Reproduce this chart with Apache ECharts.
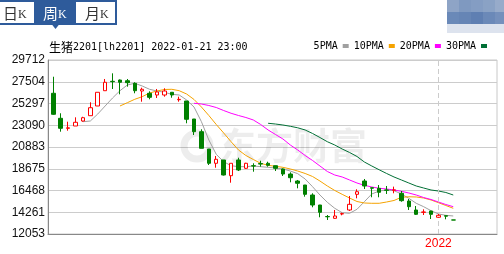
<!DOCTYPE html>
<html>
<head>
<meta charset="utf-8">
<script src="https://cdn.jsdelivr.net/npm/echarts@6/dist/echarts.min.js"></script>
<style>html,body{margin:0;padding:0;background:#fff;}#c{width:504px;height:254px;}</style>
</head>
<body>
<div id="c"></div>
<script>
// ---- data ----
var dates = ['2021-01-08','2021-01-15','2021-01-22','2021-01-29','2021-02-05','2021-02-10','2021-02-19','2021-02-26','2021-03-05','2021-03-12',
 '2021-03-19','2021-03-26','2021-04-02','2021-04-09','2021-04-16','2021-04-23','2021-04-30','2021-05-07','2021-05-14','2021-05-21',
 '2021-05-28','2021-06-04','2021-06-11','2021-06-18','2021-06-25','2021-07-02','2021-07-09','2021-07-16','2021-07-23','2021-07-30',
 '2021-08-06','2021-08-13','2021-08-20','2021-08-27','2021-09-03','2021-09-10','2021-09-17','2021-09-24','2021-09-30','2021-10-08',
 '2021-10-15','2021-10-22','2021-10-29','2021-11-05','2021-11-12','2021-11-19','2021-11-26','2021-12-03','2021-12-10','2021-12-17',
 '2021-12-24','2021-12-31','2022-01-07','2022-01-14','2022-01-21'];
var emptySlots = ['+1','+2','+3','+4','+5'];
var opens  = [26335,23795,22780,23015,23520,24060,25045,26595,27550,27680,27610,27345,26565,26335,26160,26160,26435,25680,25550,23725,
 22435,20680,19230,19565,17970,19565,18720,18980,19200,19230,18985,18650,18140,17430,17025,16010,14995,13830,13645,14085,
 14490,16080,17430,16750,16690,16520,16490,16185,15400,14490,14250,14385,13750,13910,13480];
var closes = [24200,22780,22830,23390,23855,24870,26435,27450,27510,27450,27410,26595,26740,25925,26465,26565,26160,25720,23695,22435,
 20750,19230,19635,18040,19230,18550,19230,18950,19150,19025,18720,18140,17765,17200,16080,14995,14255,13800,13880,14120,
 15065,16345,16925,16700,16285,16490,16530,15435,14825,14050,14290,14050,13950,13860,13470];
var lows   = [24150,22435,22535,23015,23450,24060,25045,26595,26770,26230,27005,26335,25480,25725,25855,25990,25885,25480,23290,22100,
 20750,19055,18780,17990,17260,18445,18650,18375,18885,18885,18445,17940,17300,16690,15840,14765,13750,13475,13600,13950,
 14385,15675,16620,15780,15780,16115,16185,15330,14490,13980,13980,13575,13700,13545,13470];
var highs  = [28015,24305,23450,23895,23950,25420,26435,27785,28360,27730,27785,27450,26900,26535,26770,26840,26435,25990,25550,23725,
 22680,20680,19970,19565,19230,19795,19280,19230,19490,19390,19000,18700,18315,17535,17025,16185,15000,13980,14490,14215,
 15910,16590,17635,16760,17025,16925,16860,16415,15605,14895,14560,14400,14085,13920,13480];
var ma5  = [null,null,null,null,23450,23520,24230,25045,25855,26595,27175,27350,27075,26740,26565,26435,26230,26160,25655,24940,
 23450,21595,20140,19390,18985,18885,18885,18955,18885,18820,18750,18650,18445,18175,17635,16855,16010,15270,14660,14215,
 14155,14560,15330,16115,16415,16520,16450,16115,15675,15170,14825,14420,14085,13950,13880];
var ma10 = [null,null,null,null,null,null,null,null,null,25045,25380,25725,25990,26365,26565,26720,26740,26595,26260,25705,
 24940,24080,23165,22305,21420,20580,20020,19615,19230,19025,18925,18820,18650,18445,18195,17890,17430,16925,16470,16080,
 15705,15350,15200,15170,15170,15300,15455,15780,15830,15810,15705,15505,15230,14945,14660];
var ma20 = [null,null,null,null,null,null,null,null,null,null,null,null,null,null,null,null,null,null,null,25320,
 25245,25095,24890,24585,24305,24080,23875,23625,23165,22610,22150,21695,21085,20580,20020,19515,18955,18395,18040,17840,
 17535,17230,16995,16825,16690,16620,16520,16385,16215,16010,15755,15555,15300,15045,14825];
var ma30 = [null,null,null,null,null,null,null,null,null,null,null,null,null,null,null,null,null,null,null,null,
 null,null,null,null,null,null,null,null,null,23290,23215,23115,22985,22830,22610,22255,21845,21420,21085,20680,
 20325,19920,19360,18955,18570,18195,17840,17535,17230,16925,16720,16520,16415,16265,16010];
var yTicks = [12053,14261,16468,18675,20883,23090,25297,27504,29712];
var yMin = 12053, yMax = 29712;
var yearTickDates = ['2022-01-07'];
var yearTickLabels = ['2022'];
var maNames = ['5PMA','10PMA','20PMA','30PMA'];
var maColors = ['#a0a0a0','#f5a300','#ff00ff','#006f35'];
var titleCJK = '生猪';
var titleRest = '2201[lh2201] 2022-01-21 23:00';
var tabs = ['日','周','月'];

// ---- build ----
var cats = dates.concat(emptySlots);
var kData = opens.map(function(o,i){ return [o, closes[i], lows[i], highs[i]]; });
var maData = [ma5, ma10, ma20, ma30];

var blue = '#2e5b9b';
var graphics = [
  // tabs
  {type:'rect', shape:{x:-8,y:1,width:124,height:23}, style:{fill:'#fff', stroke:blue, lineWidth:2}, z:10},
  {type:'rect', shape:{x:34,y:0,width:42,height:25}, style:{fill:blue}, z:11},
  {type:'polygon', shape:{points:[[51.5,24],[59.5,24],[55.5,29]]}, style:{fill:blue}, z:11},
  // mosaic top right
  {type:'rect', shape:{x:447,y:0,width:12,height:12}, style:{fill:'#8ea4c6'}, z:10},
  {type:'rect', shape:{x:459,y:0,width:12,height:12}, style:{fill:'#7f99c0'}, z:10},
  {type:'rect', shape:{x:471,y:0,width:12,height:12}, style:{fill:'#849dc3'}, z:10},
  {type:'rect', shape:{x:483,y:0,width:12,height:12}, style:{fill:'#8aa2c5'}, z:10},
  {type:'rect', shape:{x:495,y:0,width:9,height:12}, style:{fill:'#97abca'}, z:10},
  {type:'rect', shape:{x:447,y:12,width:12,height:12}, style:{fill:'#6a89b8'}, z:10},
  {type:'rect', shape:{x:459,y:12,width:12,height:12}, style:{fill:'#6685b5'}, z:10},
  {type:'rect', shape:{x:471,y:12,width:12,height:12}, style:{fill:'#5f7fb2'}, z:10},
  {type:'rect', shape:{x:483,y:12,width:12,height:12}, style:{fill:'#6b89b8'}, z:10},
  {type:'rect', shape:{x:495,y:12,width:9,height:12}, style:{fill:'#7590bc'}, z:10},
  {type:'rect', shape:{x:447,y:24,width:57,height:9}, style:{fill:'#dde3ee'}, z:10},
  // watermark
  {type:'text', x:219, y:146, style:{text:'东方财富', font:'bold 37px "Noto Sans CJK SC"', fill:'rgba(0,0,0,0.07)', verticalAlign:'middle'}, z:1},
  {type:'circle', shape:{cx:197,cy:146,r:13}, style:{fill:'none', stroke:'rgba(0,0,0,0.07)', lineWidth:7}, z:1}
];
var tabX = [3, 43, 85];
tabs.forEach(function(t,i){
  graphics.push({type:'text', x:tabX[i], y:13, z:12, style:{
    text:'{c|'+t+'}{k|K}', verticalAlign:'middle',
    rich:{c:{fontFamily:'"Noto Sans CJK SC"', fontSize:15, fill: i===1?'#fff':'#333', lineHeight:16},
          k:{fontFamily:'"Liberation Serif"', fontSize:12, fill: i===1?'#fff':'#333', lineHeight:16, verticalAlign:'bottom'}}
  }});
});
graphics.push({type:'text', x:49, y:47.5, z:12, style:{
  text:'{c|'+titleCJK+'}{a|'+titleRest+'}', verticalAlign:'middle',
  rich:{c:{fontFamily:'"Noto Sans CJK SC"', fontSize:12, fill:'#000'},
        a:{fontFamily:'"DejaVu Sans Mono"', fontSize:10, fill:'#000'}}
}});

var series = [{
  type:'candlestick', name:'K', xAxisIndex:1, yAxisIndex:1, data:kData, barWidth:4,
  itemStyle:{color:'#ffffff', color0:'#008000', borderColor:'#ff0000', borderColor0:'#008000', borderWidth:1},
  markLine:{silent:true, symbol:['none','none'], label:{show:false},
    lineStyle:{color:'#cccccc', type:[5,3], width:1},
    data: yearTickDates.map(function(d){ return {xAxis:d}; })},
  z:5
}];
maNames.forEach(function(n,i){
  series.push({type:'line', name:n, xAxisIndex:1, yAxisIndex:1, data:maData[i], showSymbol:false, symbol:'none',
    lineStyle:{width:1, color:maColors[i]}, itemStyle:{color:maColors[i]}, z:4});
});

var option = {
  animation:false,
  graphic: graphics,
  legend:{data:maNames, right:17, top:41, align:'right', icon:'rect', itemWidth:6, itemHeight:4, itemGap:5,
    textStyle:{fontFamily:'"DejaVu Sans Mono"', fontSize:10, color:'#000', padding:[0,0,0,0]}, padding:0},
  grid:[
    {left:48, top:60, width:449, height:174, show:true, borderColor:'#c8c8c8', borderWidth:1, backgroundColor:'transparent'},
    {left:49.6, top:60, width:444.4, height:174}
  ],
  xAxis:[
    {type:'value', gridIndex:0, min:0, max:1, axisLine:{show:true, lineStyle:{color:'#888'}}, axisTick:{show:false},
     axisLabel:{show:false}, splitLine:{show:false}},
    {type:'category', gridIndex:1, data:cats, boundaryGap:true, axisLine:{show:false}, axisTick:{show:false},
     splitLine:{show:false},
     axisLabel:{color:'#ff0000', fontSize:12, fontFamily:'"Liberation Sans"', margin:4,
       interval:function(idx, val){ return yearTickDates.indexOf(val) >= 0; },
       formatter:function(val){ var k = yearTickDates.indexOf(val); return k>=0 ? yearTickLabels[k] : ''; }}}
  ],
  yAxis:[
    {type:'value', gridIndex:0, min:yMin, max:yMax,
     axisLine:{show:true, lineStyle:{color:'#888'}},
     axisTick:{show:false, customValues:yTicks},
     axisLabel:{customValues:yTicks, color:'#111', fontSize:12, fontFamily:'"Liberation Sans"', margin:3,
       formatter:function(v){ return String(Math.round(v)); }},
     splitLine:{show:true, lineStyle:{color:'#cccccc', width:1}}},
    {type:'value', gridIndex:1, min:yMin, max:yMax, show:false, splitLine:{show:false}}
  ],
  series: series
};
var chart = echarts.init(document.getElementById('c'), null, {renderer:'canvas'});
chart.setOption(option);
</script>
</body>
</html>
